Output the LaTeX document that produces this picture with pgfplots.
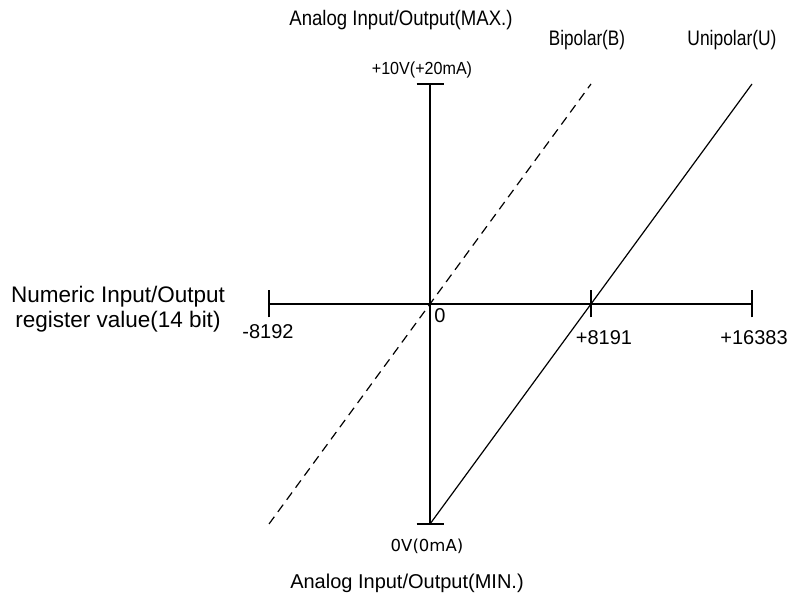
\documentclass[border=0pt]{standalone}
\usepackage{pgfplots}
\pgfplotsset{compat=1.18}
\usepackage{fontspec}
\setmainfont{Liberation Sans}
\newfontfamily\tahoma{DejaVu Sans}

\begin{document}
\begin{tikzpicture}[x=1pt,y=1pt]
\path (0,0) rectangle (807,606);
\begin{axis}[
  at={(269pt,82pt)}, anchor=south west,
  scale only axis, width=483pt, height=440pt,
  xmin=-8192, xmax=16383, ymin=-5, ymax=5,
  axis lines=middle, axis line style={-, line width=1.2pt},
  enlargelimits=false, clip=false,
  scaled x ticks=false, scaled y ticks=false,
  xtick={-8192,8191}, xticklabels={},
  extra x ticks={16383}, extra x tick labels={},
  extra x tick style={major tick style={line width=2pt}},
  ytick={-5,5}, yticklabels={},
  tick align=center, major tick length=27pt,
  major tick style={line width=1.2pt, black},
]
\addplot[black, line width=1.2pt, dash pattern=on 9pt off 6pt] coordinates {(-8192,-5) (8191,5)};
\addplot[black, line width=1.2pt] coordinates {(0,-5) (16383,5)};
\end{axis}
\node[xscale=0.885] at (401,586) {\fontsize{21}{24}\selectfont Analog Input/Output(MAX.)};
\node[xscale=0.92] at (422,536) {\fontsize{17.5}{20}\selectfont +10V(+20mA)};
\node[xscale=0.815] at (587,566) {\fontsize{21}{24}\selectfont Bipolar(B)};
\node[xscale=0.83] at (732,566) {\fontsize{21}{24}\selectfont Unipolar(U)};
\node[align=center, font=\fontsize{22.5}{25}\selectfont] at (118,297) {Numeric Input/Output\\ register value(14 bit)};
\node at (268,274) {\fontsize{20}{22}\selectfont -8192};
\node at (440,290) {\fontsize{20}{22}\selectfont 0};
\node at (604,268) {\fontsize{20}{22}\selectfont +8191};
\node at (754,268) {\fontsize{20}{22}\selectfont +16383};
\node at (427,60) {\tahoma\fontsize{16.5}{20}\selectfont 0V(0mA)};
\node at (407,23) {\fontsize{20}{24}\selectfont Analog Input/Output(MIN.)};
\end{tikzpicture}
\end{document}
